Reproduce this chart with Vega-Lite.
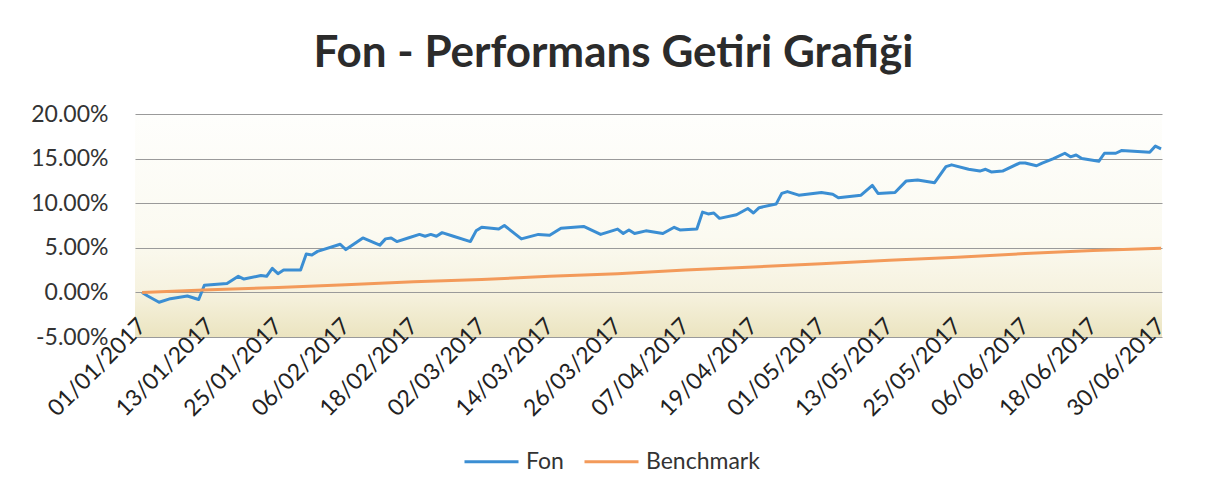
{
  "$schema": "https://vega.github.io/schema/vega-lite/v6.json",
  "width": 1027,
  "height": 223,
  "autosize": {"type": "none"},
  "padding": {"left": 135, "top": 114, "right": 54, "bottom": 162},
  "background": "#ffffff",
  "config": {
    "view": {
      "stroke": null,
      "fill": {
        "gradient": "linear",
        "x1": 0, "y1": 0, "x2": 0, "y2": 1,
        "stops": [
          {"offset": 0, "color": "#fefefc"},
          {"offset": 0.55, "color": "#fbfaf1"},
          {"offset": 0.8, "color": "#f6f2df"},
          {"offset": 1, "color": "#ebe4c0"}
        ]
      }
    },
    "font": "Lato"
  },
  "title": {
    "text": "Fon - Performans Getiri Grafiği",
    "font": "Lato",
    "fontSize": 44,
    "fontWeight": "bold",
    "color": "#2b2b2b",
    "anchor": "middle",
    "dx": -35,
    "baseline": "alphabetic",
    "offset": -8
  },
  "data": {"values": [
    {"d":"2017-01-01","s":"Fon","v":0.0},
    {"d":"2017-01-02","s":"Fon","v":-0.4},
    {"d":"2017-01-04","s":"Fon","v":-1.1},
    {"d":"2017-01-06","s":"Fon","v":-0.7},
    {"d":"2017-01-09","s":"Fon","v":-0.4},
    {"d":"2017-01-11","s":"Fon","v":-0.8},
    {"d":"2017-01-12","s":"Fon","v":0.8},
    {"d":"2017-01-16","s":"Fon","v":1.0},
    {"d":"2017-01-18","s":"Fon","v":1.8},
    {"d":"2017-01-19","s":"Fon","v":1.5},
    {"d":"2017-01-22","s":"Fon","v":1.9},
    {"d":"2017-01-23","s":"Fon","v":1.8},
    {"d":"2017-01-24","s":"Fon","v":2.7},
    {"d":"2017-01-25","s":"Fon","v":2.1},
    {"d":"2017-01-26","s":"Fon","v":2.5},
    {"d":"2017-01-29","s":"Fon","v":2.5},
    {"d":"2017-01-30","s":"Fon","v":4.3},
    {"d":"2017-01-31","s":"Fon","v":4.2},
    {"d":"2017-02-01","s":"Fon","v":4.6},
    {"d":"2017-02-05","s":"Fon","v":5.4},
    {"d":"2017-02-06","s":"Fon","v":4.8},
    {"d":"2017-02-09","s":"Fon","v":6.1},
    {"d":"2017-02-12","s":"Fon","v":5.3},
    {"d":"2017-02-13","s":"Fon","v":6.0},
    {"d":"2017-02-14","s":"Fon","v":6.1},
    {"d":"2017-02-15","s":"Fon","v":5.7},
    {"d":"2017-02-17","s":"Fon","v":6.1},
    {"d":"2017-02-19","s":"Fon","v":6.5},
    {"d":"2017-02-20","s":"Fon","v":6.3},
    {"d":"2017-02-21","s":"Fon","v":6.5},
    {"d":"2017-02-22","s":"Fon","v":6.3},
    {"d":"2017-02-23","s":"Fon","v":6.7},
    {"d":"2017-02-25","s":"Fon","v":6.3},
    {"d":"2017-02-28","s":"Fon","v":5.7},
    {"d":"2017-03-01","s":"Fon","v":6.9},
    {"d":"2017-03-02","s":"Fon","v":7.3},
    {"d":"2017-03-05","s":"Fon","v":7.1},
    {"d":"2017-03-06","s":"Fon","v":7.5},
    {"d":"2017-03-09","s":"Fon","v":6.0},
    {"d":"2017-03-12","s":"Fon","v":6.5},
    {"d":"2017-03-14","s":"Fon","v":6.4},
    {"d":"2017-03-16","s":"Fon","v":7.2},
    {"d":"2017-03-20","s":"Fon","v":7.4},
    {"d":"2017-03-23","s":"Fon","v":6.5},
    {"d":"2017-03-26","s":"Fon","v":7.1},
    {"d":"2017-03-27","s":"Fon","v":6.6},
    {"d":"2017-03-28","s":"Fon","v":7.0},
    {"d":"2017-03-29","s":"Fon","v":6.6},
    {"d":"2017-03-31","s":"Fon","v":6.9},
    {"d":"2017-04-03","s":"Fon","v":6.6},
    {"d":"2017-04-05","s":"Fon","v":7.3},
    {"d":"2017-04-06","s":"Fon","v":7.0},
    {"d":"2017-04-09","s":"Fon","v":7.1},
    {"d":"2017-04-10","s":"Fon","v":9.0},
    {"d":"2017-04-11","s":"Fon","v":8.8},
    {"d":"2017-04-12","s":"Fon","v":8.9},
    {"d":"2017-04-13","s":"Fon","v":8.3},
    {"d":"2017-04-16","s":"Fon","v":8.7},
    {"d":"2017-04-18","s":"Fon","v":9.4},
    {"d":"2017-04-19","s":"Fon","v":8.9},
    {"d":"2017-04-20","s":"Fon","v":9.5},
    {"d":"2017-04-23","s":"Fon","v":9.9},
    {"d":"2017-04-24","s":"Fon","v":11.1},
    {"d":"2017-04-25","s":"Fon","v":11.3},
    {"d":"2017-04-27","s":"Fon","v":10.9},
    {"d":"2017-05-01","s":"Fon","v":11.2},
    {"d":"2017-05-03","s":"Fon","v":11.0},
    {"d":"2017-05-04","s":"Fon","v":10.6},
    {"d":"2017-05-08","s":"Fon","v":10.9},
    {"d":"2017-05-10","s":"Fon","v":12.0},
    {"d":"2017-05-11","s":"Fon","v":11.1},
    {"d":"2017-05-14","s":"Fon","v":11.2},
    {"d":"2017-05-16","s":"Fon","v":12.5},
    {"d":"2017-05-18","s":"Fon","v":12.6},
    {"d":"2017-05-21","s":"Fon","v":12.3},
    {"d":"2017-05-23","s":"Fon","v":14.1},
    {"d":"2017-05-24","s":"Fon","v":14.3},
    {"d":"2017-05-27","s":"Fon","v":13.8},
    {"d":"2017-05-29","s":"Fon","v":13.6},
    {"d":"2017-05-30","s":"Fon","v":13.8},
    {"d":"2017-05-31","s":"Fon","v":13.5},
    {"d":"2017-06-02","s":"Fon","v":13.6},
    {"d":"2017-06-05","s":"Fon","v":14.5},
    {"d":"2017-06-06","s":"Fon","v":14.5},
    {"d":"2017-06-08","s":"Fon","v":14.2},
    {"d":"2017-06-09","s":"Fon","v":14.5},
    {"d":"2017-06-11","s":"Fon","v":15.0},
    {"d":"2017-06-13","s":"Fon","v":15.6},
    {"d":"2017-06-14","s":"Fon","v":15.2},
    {"d":"2017-06-15","s":"Fon","v":15.4},
    {"d":"2017-06-16","s":"Fon","v":15.0},
    {"d":"2017-06-19","s":"Fon","v":14.7},
    {"d":"2017-06-20","s":"Fon","v":15.6},
    {"d":"2017-06-22","s":"Fon","v":15.6},
    {"d":"2017-06-23","s":"Fon","v":15.9},
    {"d":"2017-06-28","s":"Fon","v":15.7},
    {"d":"2017-06-29","s":"Fon","v":16.4},
    {"d":"2017-06-30","s":"Fon","v":16.1},
    {"d":"2017-01-01","s":"Benchmark","v":0.0},
    {"d":"2017-01-13","s":"Benchmark","v":0.3},
    {"d":"2017-01-25","s":"Benchmark","v":0.55},
    {"d":"2017-02-06","s":"Benchmark","v":0.85},
    {"d":"2017-02-18","s":"Benchmark","v":1.2},
    {"d":"2017-03-02","s":"Benchmark","v":1.45},
    {"d":"2017-03-14","s":"Benchmark","v":1.8},
    {"d":"2017-03-26","s":"Benchmark","v":2.1},
    {"d":"2017-04-07","s":"Benchmark","v":2.5},
    {"d":"2017-04-19","s":"Benchmark","v":2.85},
    {"d":"2017-05-01","s":"Benchmark","v":3.2},
    {"d":"2017-05-13","s":"Benchmark","v":3.6},
    {"d":"2017-05-25","s":"Benchmark","v":3.95},
    {"d":"2017-06-06","s":"Benchmark","v":4.35},
    {"d":"2017-06-18","s":"Benchmark","v":4.7},
    {"d":"2017-06-30","s":"Benchmark","v":4.95}
  ]},
  "mark": {"type": "line", "strokeWidth": 3, "strokeJoin": "round"},
  "encoding": {
    "x": {
      "field": "d",
      "type": "temporal",
      "scale": {
        "type": "utc",
        "domain": [
          {"year": 2016, "month": 12, "date": 30, "hours": 18, "utc": true},
          {"year": 2017, "month": 6, "date": 30, "hours": 4, "utc": true}
        ]
      },
      "axis": {
        "title": null,
        "values": [
          {"year": 2017, "month": 1, "date": 1, "utc": true},
          {"year": 2017, "month": 1, "date": 13, "utc": true},
          {"year": 2017, "month": 1, "date": 25, "utc": true},
          {"year": 2017, "month": 2, "date": 6, "utc": true},
          {"year": 2017, "month": 2, "date": 18, "utc": true},
          {"year": 2017, "month": 3, "date": 2, "utc": true},
          {"year": 2017, "month": 3, "date": 14, "utc": true},
          {"year": 2017, "month": 3, "date": 26, "utc": true},
          {"year": 2017, "month": 4, "date": 7, "utc": true},
          {"year": 2017, "month": 4, "date": 19, "utc": true},
          {"year": 2017, "month": 5, "date": 1, "utc": true},
          {"year": 2017, "month": 5, "date": 13, "utc": true},
          {"year": 2017, "month": 5, "date": 25, "utc": true},
          {"year": 2017, "month": 6, "date": 6, "utc": true},
          {"year": 2017, "month": 6, "date": 18, "utc": true},
          {"year": 2017, "month": 6, "date": 30, "utc": true}
        ],
        "labelExpr": "utcFormat(datum.value, '%d/%m/%Y')",
        "labelAngle": -45,
        "labelAlign": "right",
        "labelBaseline": "middle",
        "labelPadding": -15,
        "labelFontSize": 23,
        "labelFont": "Lato",
        "labelColor": "#222222",
        "labelOverlap": false,
        "labelBound": false,
        "labelFlush": false,
        "labelLimit": 300,
        "ticks": false,
        "tickSize": 0,
        "domain": false,
        "grid": false
      }
    },
    "y": {
      "field": "v",
      "type": "quantitative",
      "scale": {"domain": [-5, 20], "nice": false},
      "axis": {
        "title": null,
        "values": [-5, 0, 5, 10, 15, 20],
        "labelExpr": "replace(format(datum.value, '.2f'), '\u2212', '-') + '%'",
        "labelFontSize": 23,
        "labelFont": "Lato",
        "labelColor": "#333333",
        "labelPadding": 27,
        "ticks": false,
        "tickSize": 0,
        "domain": false,
        "grid": true,
        "gridColor": "#9a9a9a",
        "gridWidth": 1
      }
    },
    "color": {
      "field": "s",
      "type": "nominal",
      "scale": {"domain": ["Fon", "Benchmark"], "range": ["#3b8ed3", "#f39a5a"]},
      "legend": {
        "title": null,
        "orient": "none",
        "direction": "horizontal",
        "legendX": 328,
        "legendY": 319,
        "symbolType": "stroke",
        "symbolSize": 2916,
        "symbolStrokeWidth": 3,
        "labelFontSize": 23,
        "labelFont": "Lato",
        "labelColor": "#333333",
        "labelOffset": 6,
        "columnPadding": 14
      }
    }
  }
}
